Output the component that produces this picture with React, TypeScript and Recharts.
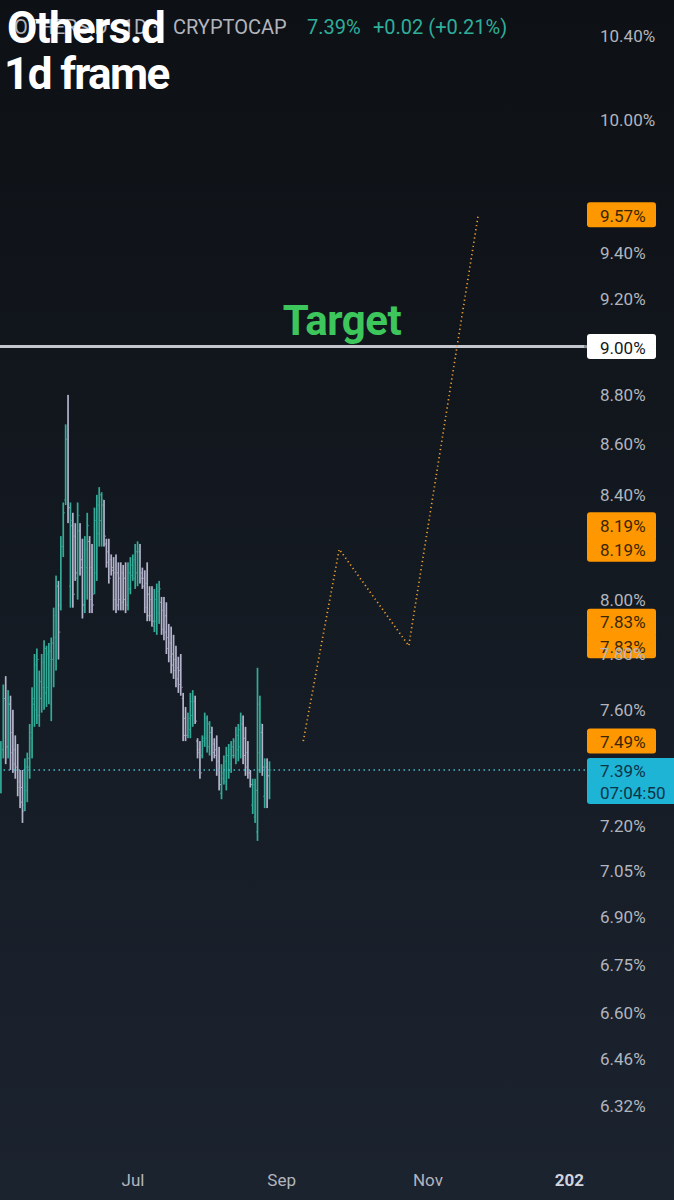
import React from 'react';
import { ComposedChart, XAxis, YAxis, Bar, Line, Scatter, ReferenceLine } from 'recharts';

// day 0 = 1 Jul; one bar per day
const firstDay = -55;

// [open, high, low, close] (%)
const ohlc: number[][] = [
  [7.35, 7.49, 7.31, 7.46], [7.46, 7.69, 7.43, 7.64], [7.64, 7.72, 7.41, 7.47], [7.47, 7.67, 7.43, 7.62],
  [7.62, 7.65, 7.39, 7.45], [7.52, 7.6, 7.38, 7.41], [7.46, 7.51, 7.36, 7.39], [7.4, 7.48, 7.3, 7.33],
  [7.35, 7.39, 7.26, 7.28], [7.33, 7.39, 7.21, 7.25], [7.27, 7.43, 7.25, 7.4], [7.32, 7.45, 7.28, 7.43],
  [7.4, 7.55, 7.36, 7.52], [7.5, 7.68, 7.43, 7.64], [7.62, 7.8, 7.54, 7.76], [7.6, 7.82, 7.55, 7.78],
  [7.58, 7.74, 7.54, 7.7], [7.64, 7.8, 7.59, 7.77], [7.68, 7.85, 7.6, 7.82], [7.66, 7.83, 7.61, 7.8],
  [7.68, 7.84, 7.62, 7.81], [7.62, 7.86, 7.56, 7.84], [7.78, 7.97, 7.68, 7.94], [7.86, 8.09, 7.74, 8.05],
  [8.05, 8.07, 7.78, 7.88], [7.98, 8.24, 7.96, 8.2], [8.2, 8.37, 8.16, 8.33], [8.38, 8.68, 8.36, 8.62],
  [8.62, 8.8, 8.29, 8.35], [8.05, 8.37, 7.97, 8.3], [8.28, 8.33, 7.97, 8.02], [8.24, 8.29, 8.07, 8.1],
  [8.08, 8.37, 8.0, 8.32], [8.26, 8.29, 8.09, 8.12], [8.15, 8.23, 7.93, 7.98], [7.98, 8.24, 7.95, 8.19],
  [8.12, 8.33, 8.0, 8.28], [8.22, 8.24, 7.95, 8.0], [8.12, 8.21, 7.95, 7.98], [8.02, 8.35, 8.02, 8.3],
  [8.1, 8.4, 8.07, 8.36], [8.25, 8.43, 8.2, 8.4], [8.3, 8.41, 8.2, 8.38], [8.36, 8.38, 8.2, 8.24],
  [8.21, 8.23, 8.12, 8.14], [8.18, 8.23, 8.06, 8.08], [8.15, 8.17, 8.09, 8.11], [8.12, 8.16, 7.96, 8.0],
  [8.1, 8.17, 7.95, 7.98], [8.1, 8.14, 7.96, 8.0], [8.08, 8.14, 7.96, 7.99], [8.1, 8.13, 7.96, 8.0],
  [8.08, 8.14, 7.95, 7.98], [7.99, 8.14, 7.96, 8.1], [8.04, 8.16, 8.02, 8.13], [8.09, 8.17, 8.07, 8.15],
  [8.08, 8.21, 8.04, 8.18], [8.1, 8.22, 8.05, 8.19], [8.18, 8.21, 8.06, 8.08], [8.1, 8.12, 8.04, 8.05],
  [8.08, 8.11, 7.95, 7.97], [8.06, 8.14, 7.92, 7.94], [8.02, 8.05, 7.92, 7.94], [8.0, 8.05, 7.9, 7.92],
  [7.9, 8.04, 7.88, 8.0], [7.92, 8.06, 7.87, 8.03], [7.95, 8.07, 7.91, 8.04], [7.99, 8.01, 7.87, 7.89],
  [7.96, 8.01, 7.85, 7.88], [7.94, 7.99, 7.8, 7.82], [7.86, 7.91, 7.77, 7.79], [7.84, 7.9, 7.73, 7.76],
  [7.8, 7.87, 7.71, 7.74], [7.78, 7.83, 7.68, 7.71], [7.75, 7.79, 7.66, 7.69], [7.74, 7.8, 7.65, 7.68],
  [7.64, 7.66, 7.49, 7.51], [7.57, 7.61, 7.49, 7.51], [7.51, 7.59, 7.5, 7.57], [7.53, 7.66, 7.5, 7.63],
  [7.58, 7.67, 7.54, 7.64], [7.63, 7.65, 7.55, 7.56], [7.49, 7.5, 7.43, 7.45], [7.46, 7.49, 7.36, 7.38],
  [7.44, 7.51, 7.43, 7.5], [7.49, 7.59, 7.47, 7.57], [7.5, 7.58, 7.45, 7.55], [7.47, 7.56, 7.44, 7.54],
  [7.52, 7.54, 7.42, 7.45], [7.48, 7.5, 7.43, 7.44], [7.46, 7.51, 7.37, 7.39], [7.42, 7.47, 7.32, 7.34],
  [7.31, 7.41, 7.29, 7.38], [7.36, 7.44, 7.34, 7.42], [7.35, 7.47, 7.32, 7.44], [7.39, 7.48, 7.36, 7.46],
  [7.41, 7.49, 7.38, 7.47], [7.44, 7.5, 7.43, 7.49], [7.44, 7.54, 7.41, 7.51], [7.46, 7.55, 7.42, 7.53],
  [7.47, 7.59, 7.43, 7.56], [7.55, 7.58, 7.41, 7.44], [7.5, 7.54, 7.37, 7.4], [7.45, 7.49, 7.36, 7.38],
  [7.38, 7.39, 7.33, 7.34], [7.27, 7.36, 7.24, 7.34], [7.23, 7.36, 7.21, 7.32], [7.18, 7.75, 7.15, 7.62],
  [7.45, 7.65, 7.38, 7.55], [7.52, 7.55, 7.37, 7.4], [7.3, 7.43, 7.26, 7.41], [7.4, 7.43, 7.26, 7.37],
  [7.37, 7.42, 7.29, 7.39],
];

// projected path drawn on the chart
const pathDays = [71, 86, 115, 144];
const pathValues = [7.49, 8.19, 7.83, 9.57];

const priceTicks = [6.32, 6.46, 6.6, 6.75, 6.9, 7.05, 7.2, 7.6, 7.8, 8.0, 8.4, 8.6, 8.8, 9.2, 9.4, 10.0, 10.4];
const timeTicks = [0, 62, 123, 184];
const timeLabels = ['Jul', 'Sep', 'Nov', '2025'];

const lastPrice = 7.39;
const targetLevel = 9.0;

const UP = '#33ab98';
const DOWN = '#b3b3cc';
const ORANGE = '#ff9800';
const FONT = 'Roboto, sans-serif';

const rows: any[] = ohlc.map(([o, h, l, c], i) => ({
  day: firstDay + i,
  range: [l, h],
  open: o,
  close: c,
  up: c >= o,
}));
pathDays.forEach((d, i) => rows.push({ day: d, proj: pathValues[i] }));

const Stick = (props: any) => {
  const { x, y, width, height, payload } = props;
  if (!payload || !payload.range || !Number.isFinite(y)) return <g />;
  const cx = x + width / 2;
  return <rect x={cx - 0.85} y={y} width={1.7} height={Math.max(height, 1)} fill={payload.up ? UP : DOWN} />;
};

const OpenTick = (props: any) => {
  const { cx, cy, payload } = props;
  if (!payload || payload.open == null || !Number.isFinite(cy)) return <g />;
  return <rect x={cx - 1.6} y={cy - 0.5} width={0.8} height={1} fill={payload.up ? UP : DOWN} />;
};

const CloseTick = (props: any) => {
  const { cx, cy, payload } = props;
  if (!payload || payload.close == null || !Number.isFinite(cy)) return <g />;
  return <rect x={cx + 0.8} y={cy - 0.5} width={0.8} height={1} fill={payload.up ? UP : DOWN} />;
};

const PriceTick = (props: any) => {
  const { y, payload } = props;
  return (
    <text x={600} y={y} dominantBaseline="central" fill="#b2b5be" fontSize={17} fontFamily={FONT}>
      {payload.value.toFixed(2)}%
    </text>
  );
};

const TimeTick = (props: any) => {
  const { x, payload } = props;
  const i = timeTicks.indexOf(payload.value);
  const year = i === 3;
  return (
    <text
      x={x}
      y={1180}
      textAnchor="middle"
      dominantBaseline="central"
      fill={year ? '#d1d4dc' : '#b2b5be'}
      fontWeight={year ? 700 : 400}
      fontSize={17}
      fontFamily={FONT}
      clipPath="url(#timeClip)"
    >
      {timeLabels[i]}
    </text>
  );
};

// price tag on the right scale; a shifted (stacked) tag merges with the one below it
const Tag = (props: any) => {
  const { viewBox, text, fill = ORANGE, color = '#3a2700', shift = 0 } = props;
  if (!viewBox) return null;
  const cy = viewBox.y + shift;
  const h = shift < 0 ? 28 : 25;
  return (
    <g>
      <rect x={587} y={cy - 12.5} width={69} height={h} rx={3} fill={fill} />
      <text x={600} y={cy + 1} dominantBaseline="central" fill={color} fontSize={17} fontFamily={FONT}>
        {text}
      </text>
    </g>
  );
};

const TargetTag = (props: any) => {
  const { viewBox } = props;
  if (!viewBox) return null;
  const cy = viewBox.y;
  return (
    <g>
      <text x={342} y={cy - 12} textAnchor="middle" fill="#3cc65c" fontSize={42} fontWeight={700} fontFamily={FONT} letterSpacing={-0.5}>
        Target
      </text>
      <rect x={584} y={cy - 1.5} width={4} height={3} fill="#8d9096" />
      <Tag viewBox={viewBox} text="9.00%" fill="#ffffff" color="#131722" />
    </g>
  );
};

const LastTag = (props: any) => {
  const { viewBox } = props;
  if (!viewBox) return null;
  const cy = viewBox.y;
  return (
    <g>
      <rect x={587} y={cy - 12} width={90} height={46} rx={3} fill="#1eb4d6" />
      <text x={600} y={cy + 1} dominantBaseline="central" fill="#0c3347" fontSize={17} fontFamily={FONT}>
        {lastPrice.toFixed(2)}%
      </text>
      <text x={600} y={cy + 23} dominantBaseline="central" fill="#0c3347" fontSize={17} fontFamily={FONT}>
        07:04:50
      </text>
    </g>
  );
};

export default function App() {
  return (
    <div
      style={{
        position: 'absolute',
        left: 0,
        top: 0,
        width: 674,
        height: 1200,
        overflow: 'hidden',
        background: 'linear-gradient(180deg, #0d1014 0%, #141a22 50%, #1b232f 100%)',
        fontFamily: FONT,
      }}
    >
      <ComposedChart width={674} height={1200} data={rows} margin={{ top: 0, right: 0, bottom: 0, left: 0 }}>
        <defs>
          <clipPath id="timeClip">
            <rect x={0} y={1140} width={585} height={60} />
          </clipPath>
        </defs>
        <XAxis
          dataKey="day"
          type="number"
          domain={[-55.46, 188.49]}
          allowDataOverflow
          ticks={timeTicks}
          tick={<TimeTick />}
          axisLine={false}
          tickLine={false}
          height={60}
        />
        <YAxis
          orientation="right"
          type="number"
          scale="log"
          domain={[6.2206, 10.576]}
          allowDataOverflow
          ticks={priceTicks}
          tick={<PriceTick />}
          axisLine={false}
          tickLine={false}
          width={89}
        />
        <ReferenceLine y={lastPrice} stroke="#45bccc" strokeDasharray="1.5 3.5" strokeWidth={1.4} />
        <ReferenceLine y={targetLevel} stroke="#c3c6cc" strokeWidth={3} label={<TargetTag />} />
        <Bar dataKey="range" barSize={2} shape={<Stick />} isAnimationActive={false} />
        <Scatter dataKey="open" shape={<OpenTick />} isAnimationActive={false} />
        <Scatter dataKey="close" shape={<CloseTick />} isAnimationActive={false} />
        <Line
          dataKey="proj"
          type="linear"
          stroke="#f0a02c"
          strokeWidth={1.7}
          strokeDasharray="1.2 3"
          dot={false}
          connectNulls
          isAnimationActive={false}
        />
        <ReferenceLine y={pathValues[3]} stroke="none" label={<Tag text="9.57%" />} />
        <ReferenceLine y={pathValues[1]} stroke="none" label={<Tag text="8.19%" />} />
        <ReferenceLine y={pathValues[1]} stroke="none" label={<Tag text="8.19%" shift={-24.5} />} />
        <ReferenceLine y={pathValues[2]} stroke="none" label={<Tag text="7.83%" />} />
        <ReferenceLine y={pathValues[2]} stroke="none" label={<Tag text="7.83%" shift={-24.5} />} />
        <ReferenceLine y={pathValues[0]} stroke="none" label={<Tag text="7.49%" />} />
        <ReferenceLine y={lastPrice} stroke="none" label={<LastTag />} />
      </ComposedChart>

      <div style={{ position: 'absolute', left: 14, top: 15, fontSize: 20, color: '#b2b5be', whiteSpace: 'nowrap' }}>
        OTHERS.D · 1D ·
      </div>
      <div style={{ position: 'absolute', left: 173, top: 15, fontSize: 20, color: '#b2b5be', whiteSpace: 'nowrap' }}>
        CRYPTOCAP
      </div>
      <div style={{ position: 'absolute', left: 307, top: 15, fontSize: 20, color: '#2fae9a', whiteSpace: 'nowrap' }}>
        7.39%
      </div>
      <div style={{ position: 'absolute', left: 373, top: 15, fontSize: 20, color: '#2fae9a', whiteSpace: 'nowrap' }}>
        +0.02 (+0.21%)
      </div>
      <div
        style={{
          position: 'absolute',
          left: 7,
          top: 6,
          fontSize: 44,
          lineHeight: '44px',
          fontWeight: 700,
          letterSpacing: -1.6,
          color: '#ffffff',
          whiteSpace: 'nowrap',
        }}
      >
        Others.d
      </div>
      <div
        style={{
          position: 'absolute',
          left: 4,
          top: 52,
          fontSize: 44,
          lineHeight: '44px',
          fontWeight: 700,
          letterSpacing: -1.6,
          color: '#ffffff',
          whiteSpace: 'nowrap',
        }}
      >
        1d frame
      </div>
    </div>
  );
}
